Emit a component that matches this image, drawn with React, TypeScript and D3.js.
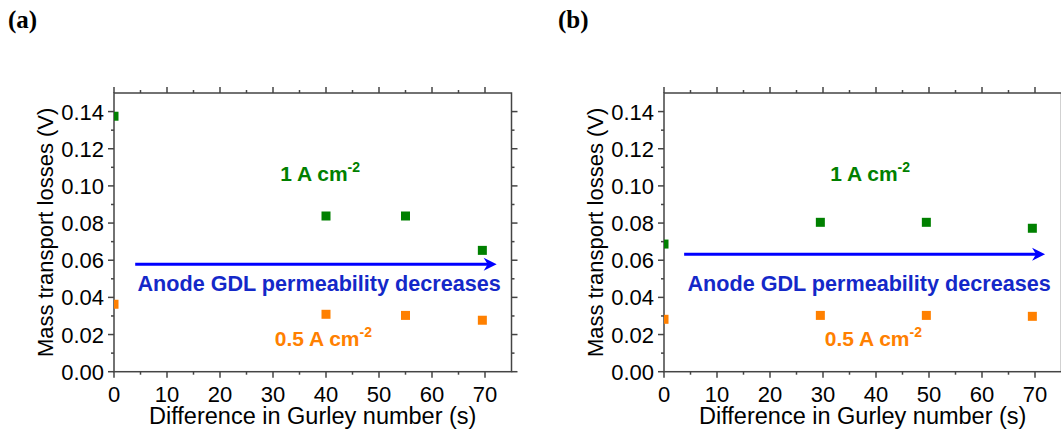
import React from 'react';
import * as d3 from 'd3';

// chart size
const W = 1061;
const H = 433;

// data
const gurleyA = [0, 40, 55, 69.5];
const lossA1 = [0.1375, 0.0838, 0.0838, 0.0653];
const lossA05 = [0.0363, 0.0309, 0.0303, 0.0277];
const gurleyB = [0, 29.5, 49.5, 69.5];
const lossB1 = [0.0687, 0.0804, 0.0804, 0.0772];
const lossB05 = [0.0282, 0.0303, 0.0303, 0.0298];

const xTicks = [0, 10, 20, 30, 40, 50, 60, 70];
const yTicks = [0, 0.02, 0.04, 0.06, 0.08, 0.1, 0.12, 0.14];

// arrow (x start, x end, y) per panel
const arrowA = [4, 72.2, 0.0578];
const arrowB = [3.8, 71.9, 0.0632];

const GREEN = '#008000';
const ORANGE = '#ff8000';
const AXIS = '#444';
const FONT = '"Liberation Sans", Arial, sans-serif';

type PanelProps = {
  id: string;
  left: number;
  xs: number[];
  y1: number[];
  y05: number[];
  arrow: number[];
};

function Panel({ id, left, xs, y1, y05, arrow }: PanelProps) {
  const top = 93;
  const bottom = 371.7;
  const x = d3.scaleLinear().domain([0, 75]).range([left, left + 397.5]);
  const y = d3.scaleLinear().domain([0, 0.15]).range([bottom, top]);
  const x0 = x(0), x1 = x(75);
  const minorX = d3.range(5, 75, 10);
  const minorY = d3.range(0.01, 0.15, 0.02);
  const ms = 9;
  const fmt = d3.format('.2f');
  const ax = x(arrow[1]);
  const ay = y(arrow[2]);

  return (
    <g>
      <defs>
        <clipPath id={`clip-${id}`}>
          <rect x={x0} y={top} width={x1 - x0} height={bottom - top} />
        </clipPath>
      </defs>
      {/* frame */}
      <rect x={x0} y={top} width={x1 - x0} height={bottom - top} fill="none" stroke={AXIS} strokeWidth={1.5} />
      {/* x ticks bottom + top */}
      {xTicks.map(t => (
        <g key={'xt' + t}>
          <line x1={x(t)} x2={x(t)} y1={bottom} y2={bottom + 6} stroke={AXIS} strokeWidth={1.5} />
          <line x1={x(t)} x2={x(t)} y1={top} y2={top - 6} stroke={AXIS} strokeWidth={1.5} />
          <text x={x(t)} y={bottom + 30} textAnchor="middle" fontSize={22} fontFamily={FONT} fill="#000">{t}</text>
        </g>
      ))}
      {minorX.map(t => (
        <g key={'xm' + t}>
          <line x1={x(t)} x2={x(t)} y1={bottom} y2={bottom + 3} stroke={AXIS} strokeWidth={1.5} />
          <line x1={x(t)} x2={x(t)} y1={top} y2={top - 3} stroke={AXIS} strokeWidth={1.5} />
        </g>
      ))}
      {/* y ticks left + right */}
      {yTicks.map(t => (
        <g key={'yt' + t}>
          <line x1={x0} x2={x0 - 6} y1={y(t)} y2={y(t)} stroke={AXIS} strokeWidth={1.5} />
          <line x1={x1} x2={x1 + 6} y1={y(t)} y2={y(t)} stroke={AXIS} strokeWidth={1.5} />
          <text x={x0 - 10} y={y(t) + 8} textAnchor="end" fontSize={22} fontFamily={FONT} fill="#000">{fmt(t)}</text>
        </g>
      ))}
      {minorY.map(t => (
        <g key={'ym' + t}>
          <line x1={x0} x2={x0 - 3} y1={y(t)} y2={y(t)} stroke={AXIS} strokeWidth={1.5} />
          <line x1={x1} x2={x1 + 3} y1={y(t)} y2={y(t)} stroke={AXIS} strokeWidth={1.5} />
        </g>
      ))}
      {/* axis titles */}
      <text x={(x0 + x1) / 2} y={424} textAnchor="middle" fontSize={23.5} fontFamily={FONT} fill="#000">
        Difference in Gurley number (s)
      </text>
      <text transform={`translate(${x0 - 61},${(top + bottom) / 2}) rotate(-90)`} textAnchor="middle" fontSize={22} fontFamily={FONT} fill="#000">
        Mass transport losses (V)
      </text>
      {/* markers */}
      <g clipPath={`url(#clip-${id})`}>
        {xs.map((v, i) => (
          <rect key={'g' + i} x={x(v) - ms / 2} y={y(y1[i]) - ms / 2} width={ms} height={ms} fill={GREEN} />
        ))}
        {xs.map((v, i) => (
          <rect key={'o' + i} x={x(v) - ms / 2} y={y(y05[i]) - ms / 2} width={ms} height={ms} fill={ORANGE} />
        ))}
      </g>
      {/* arrow */}
      <line x1={x(arrow[0])} x2={ax - 6} y1={ay} y2={ay} stroke="#0000ff" strokeWidth={3} />
      <path d={`M${ax},${ay} L${ax - 13},${ay - 6.5} L${ax - 9},${ay} L${ax - 13},${ay + 6.5} Z`} fill="#0000ff" />
      {/* annotations */}
      <text x={x(38.9)} y={180.5} textAnchor="middle" fontSize={21} fontWeight="bold" fontFamily={FONT} fill={GREEN}>
        1 A cm<tspan fontSize={14} dy={-9}>-2</tspan>
      </text>
      <text x={x(38.7)} y={291} textAnchor="middle" fontSize={21.6} fontWeight="bold" fontFamily={FONT} fill="#1428c8">
        Anode GDL permeability decreases
      </text>
      <text x={x(39.5)} y={346} textAnchor="middle" fontSize={21} fontWeight="bold" fontFamily={FONT} fill={ORANGE}>
        0.5 A cm<tspan fontSize={14} dy={-9}>-2</tspan>
      </text>
    </g>
  );
}

export default function App() {
  return (
    <div style={{ position: 'absolute', left: 0, top: 0 }}>
      <svg width={W} height={H} style={{ display: 'block', background: '#fff' }}>
        <text x={8} y={28} fontSize={25} fontWeight="bold" fontFamily='"Liberation Serif", "Times New Roman", serif'>(a)</text>
        <text x={558} y={28} fontSize={25} fontWeight="bold" fontFamily='"Liberation Serif", "Times New Roman", serif'>(b)</text>
        <Panel id="a" left={114} xs={gurleyA} y1={lossA1} y05={lossA05} arrow={arrowA} />
        <Panel id="b" left={664} xs={gurleyB} y1={lossB1} y05={lossB05} arrow={arrowB} />
      </svg>
    </div>
  );
}
